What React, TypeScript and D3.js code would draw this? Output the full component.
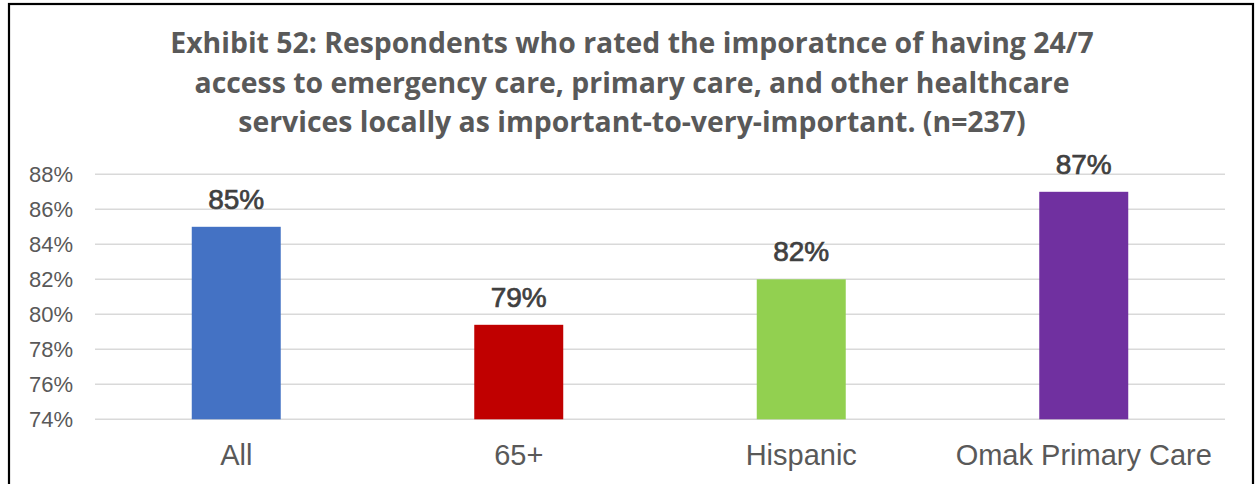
import React from "react";
import * as d3 from "d3";

const categories = ["All", "65+", "Hispanic", "Omak Primary Care"];
const values = [0.85, 0.794, 0.82, 0.87];
const valueLabels = ["85%", "79%", "82%", "87%"];
const colors = ["#4472C4", "#C00000", "#92D050", "#7030A0"];
const yTicks = [0.74, 0.76, 0.78, 0.8, 0.82, 0.84, 0.86, 0.88];
const titleLines = [
  "Exhibit 52: Respondents who rated the imporatnce of having 24/7",
  "access to emergency care, primary care, and other healthcare",
  "services locally as important-to-very-important. (n=237)",
];

export default function App() {
  const W = 1256;
  const H = 484;
  const left = 95;
  const right = 1225;
  const top = 174.3;
  const bottom = 419.3;
  const x = d3.scaleBand<string>().domain(categories).range([left, right]).padding(0);
  const y = d3.scaleLinear().domain([0.74, 0.88]).range([bottom, top]);
  const barW = x.bandwidth() * 0.315;
  const fmt = d3.format(".0%");
  return (
    <svg
      width={W}
      height={H}
      style={{ position: "absolute", left: 0, top: 0, background: "#fff" }}
    >
      <rect x={0} y={0} width={W} height={H} fill="#fff" />
      <rect x={9} y={4} width={1244} height={520} fill="none" stroke="#000" strokeWidth={2.2} />
      <g fontFamily="'Open Sans', sans-serif" fontWeight="bold" fontSize={28.4} fill="#595959" textAnchor="middle">
        {titleLines.map((t, i) => (
          <text key={i} x={632} y={53 + i * 39.5}>
            {t}
          </text>
        ))}
      </g>
      <g>
        {yTicks.map((t) => (
          <line key={t} x1={left} x2={right} y1={y(t)} y2={y(t)} stroke="#d9d9d9" strokeWidth={1.5} />
        ))}
      </g>
      <g fontFamily="'Liberation Sans', Arial, sans-serif" fontSize={22} fill="#595959" textAnchor="end">
        {yTicks.map((t) => (
          <text key={t} x={73} y={y(t) + 8}>
            {fmt(t)}
          </text>
        ))}
      </g>
      <g>
        {categories.map((c, i) => {
          const cx = (x(c) as number) + x.bandwidth() / 2;
          return (
            <rect key={c} x={cx - barW / 2} y={y(values[i])} width={barW} height={bottom - y(values[i])} fill={colors[i]} />
          );
        })}
      </g>
      <g fontFamily="'Liberation Sans', Arial, sans-serif" fontSize={28} fill="#404040" stroke="#404040" strokeWidth={0.7} textAnchor="middle">
        {categories.map((c, i) => {
          const cx = (x(c) as number) + x.bandwidth() / 2;
          return (
            <text key={c} x={cx} y={y(values[i]) - 18}>
              {valueLabels[i]}
            </text>
          );
        })}
      </g>
      <g fontFamily="'Liberation Sans', Arial, sans-serif" fontSize={29} fill="#595959" textAnchor="middle">
        {categories.map((c) => {
          const cx = (x(c) as number) + x.bandwidth() / 2;
          return (
            <text key={c} x={cx} y={465}>
              {c}
            </text>
          );
        })}
      </g>
    </svg>
  );
}
